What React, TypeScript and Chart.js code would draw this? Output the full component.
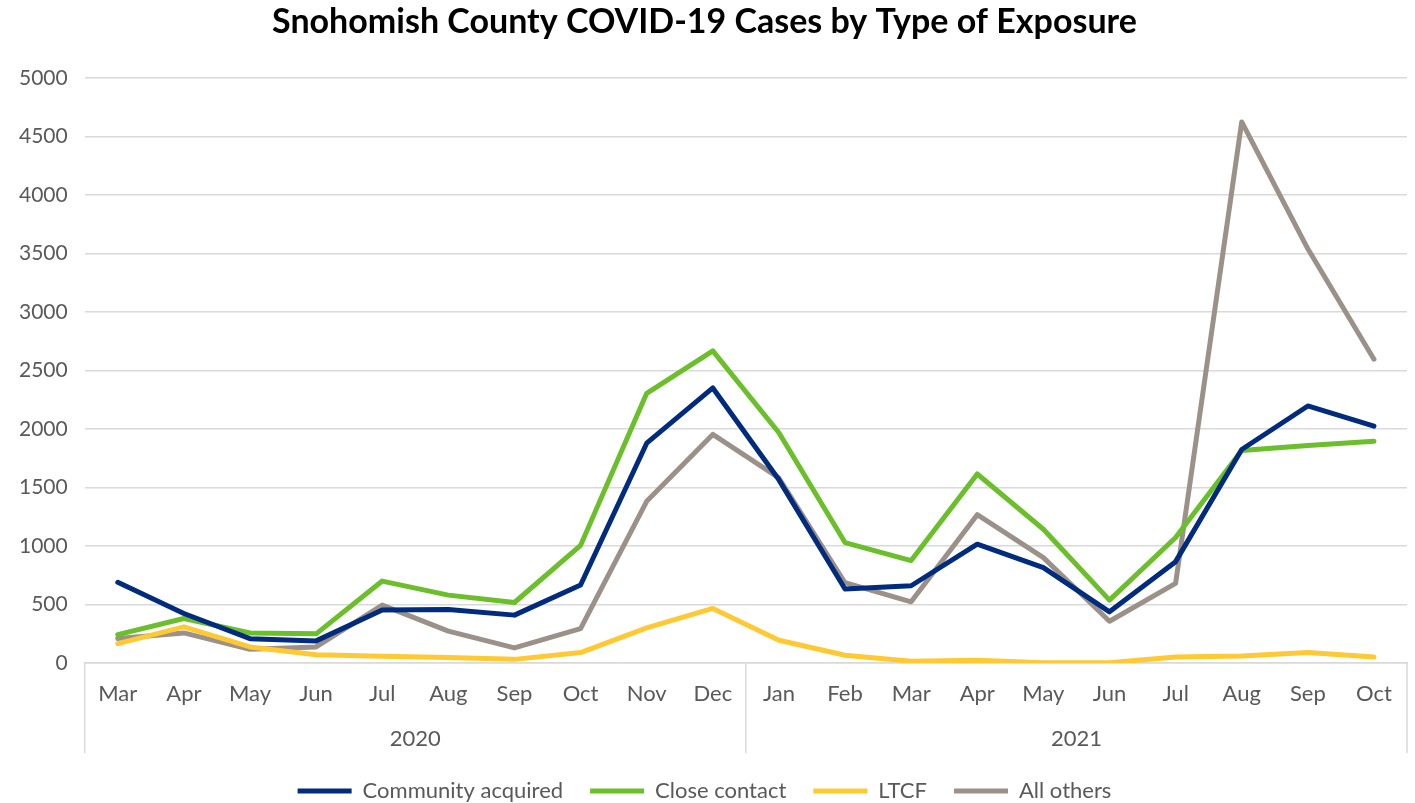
import React, { useEffect, useRef } from "react";
import { Chart, registerables } from "chart.js";

Chart.register(...registerables);

const months = ["Mar", "Apr", "May", "Jun", "Jul", "Aug", "Sep", "Oct", "Nov", "Dec", "Jan", "Feb", "Mar", "Apr", "May", "Jun", "Jul", "Aug", "Sep", "Oct"];
const years = ["2020", "2021"];
const yTicksMax = 5000;
const yStep = 500;

const communityAcquired = [690, 423, 208, 189, 452, 457, 409, 666, 1878, 2350, 1565, 632, 660, 1015, 815, 437, 866, 1824, 2196, 2024];
const closeContact = [243, 380, 257, 249, 700, 580, 517, 1005, 2304, 2667, 1967, 1029, 875, 1615, 1143, 537, 1072, 1815, 1858, 1895];
const ltcf = [166, 309, 137, 71, 57, 46, 31, 89, 300, 466, 194, 66, 15, 23, 3, 3, 51, 60, 89, 51];
const allOthers = [209, 257, 117, 137, 495, 272, 129, 294, 1381, 1953, 1581, 686, 523, 1267, 900, 357, 680, 4623, 3539, 2596];

const seriesNames = ["Community acquired", "Close contact", "LTCF", "All others"];
const seriesColors = ["#002b7f", "#6abf2a", "#ffc934", "#9b9189"];

const FONT = "Lato, 'Open Sans', sans-serif";
const TEXT = "#595959";
const GRID = "#d9d9d9";

const separatorPlugin = {
  id: "yearSeparators",
  afterDraw(chart: any) {
    const x = chart.scales.x;
    const x2 = chart.scales.x2;
    if (!x || !x2) return;
    const ctx = chart.ctx;
    const top = x.top;
    const bottom = x2.bottom;
    const mid = (x.getPixelForValue(9) + x.getPixelForValue(10)) / 2;
    ctx.save();
    ctx.strokeStyle = GRID;
    ctx.lineWidth = 1.5;
    ctx.beginPath();
    [x.left, mid, x.right].forEach((px: number) => {
      ctx.moveTo(px, top);
      ctx.lineTo(px, bottom);
    });
    ctx.stroke();
    ctx.restore();
  },
};

export default function App() {
  const ref = useRef<HTMLCanvasElement | null>(null);
  useEffect(() => {
    if (!ref.current) return;
    const data = [communityAcquired, closeContact, ltcf, allOthers];
    const chart = new Chart(ref.current, {
      type: "line",
      data: {
        labels: months,
        datasets: data.map((d, i) => ({
          label: seriesNames[i],
          data: d,
          borderColor: seriesColors[i],
          backgroundColor: seriesColors[i],
          borderWidth: 5,
          borderCapStyle: "round",
          borderJoinStyle: "round",
          pointRadius: 0,
          tension: 0,
          xAxisID: "x",
          yAxisID: "y",
        })),
      },
      options: {
        animation: false,
        responsive: false,
        maintainAspectRatio: false,
        layout: { padding: { left: 2, right: 8, top: 0, bottom: -9 } },
        scales: {
          x: {
            type: "category",
            position: "bottom",
            weight: 0,
            offset: true,
            grid: { display: false, drawTicks: false },
            border: { display: true, color: GRID, width: 1.5 },
            ticks: { color: TEXT, font: { family: FONT, size: 22, lineHeight: 1 }, padding: 20, maxRotation: 0, autoSkip: false },
          },
          x2: {
            type: "category",
            position: "bottom",
            weight: 1,
            labels: years,
            offset: true,
            grid: { display: false, drawTicks: false },
            border: { display: false },
            ticks: { color: TEXT, font: { family: FONT, size: 22, lineHeight: 1 }, padding: 3 },
          },
          y: {
            min: 0,
            max: yTicksMax,
            ticks: {
              stepSize: yStep,
              color: TEXT,
              font: { family: FONT, size: 21 },
              padding: 17,
              callback: (v: any) => String(v),
            },
            grid: { color: GRID, lineWidth: 1.5, drawTicks: false },
            border: { display: false },
          },
        },
        plugins: {
          title: {
            display: true,
            text: "Snohomish County COVID-19 Cases by Type of Exposure",
            color: "#000",
            font: { family: FONT, size: 34, weight: "bold" },
            padding: { top: 2, bottom: 35 },
          },
          legend: {
            position: "bottom",
            labels: {
              usePointStyle: true,
              pointStyle: "line",
              pointStyleWidth: 54,
              color: TEXT,
              font: { family: FONT, size: 22 },
              padding: 27,
            },
          },
          tooltip: { enabled: false },
        },
      },
      plugins: [separatorPlugin],
    } as any);
    return () => chart.destroy();
  }, []);
  return (
    <div style={{ position: "fixed", left: 0, top: 0, width: 1415, height: 803, background: "#fff" }}>
      <canvas ref={ref} width={1415} height={803} style={{ width: 1415, height: 803 }} />
    </div>
  );
}
